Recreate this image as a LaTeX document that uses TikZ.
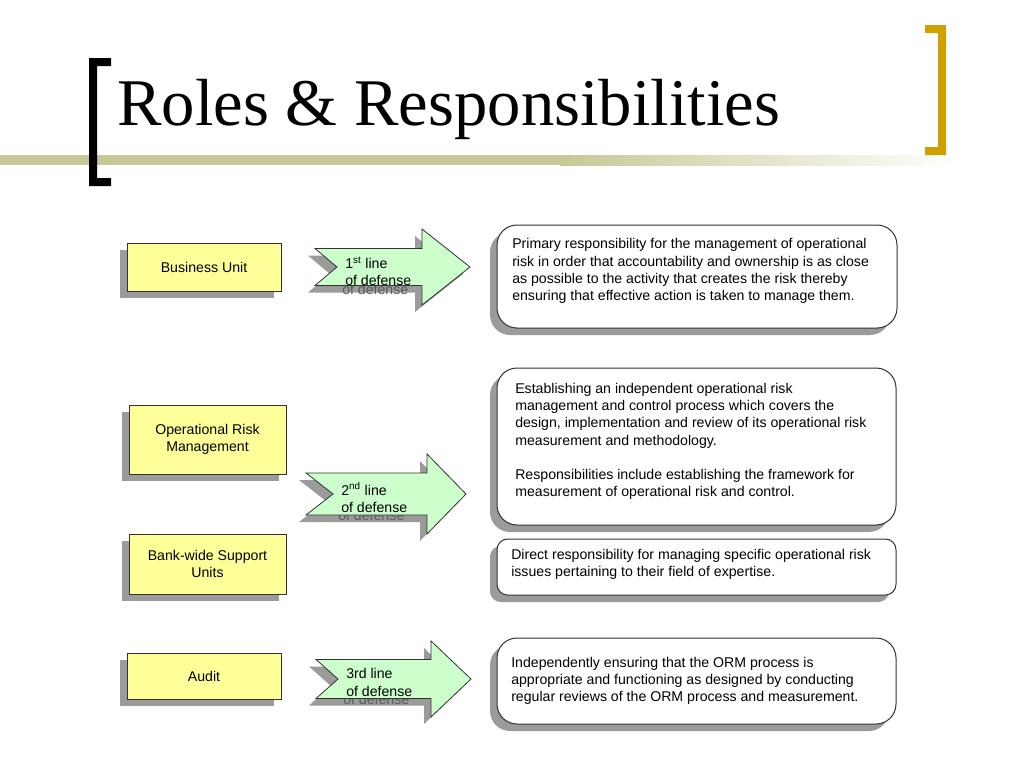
\documentclass[tikz,border=0pt]{standalone}
\usepackage{fontspec}
\setmainfont{Liberation Serif}
\newfontfamily\arialf{Liberation Sans}
\usetikzlibrary{shadows}
\definecolor{olivebar}{RGB}{200,200,150}
\definecolor{goldbr}{RGB}{208,160,0}
\definecolor{boxyellow}{RGB}{255,255,153}
\definecolor{arrgreen}{RGB}{204,255,204}
\definecolor{edgegrey}{RGB}{50,50,50}
\definecolor{shadowgrey}{RGB}{155,155,155}
\definecolor{shadowtext}{RGB}{90,90,90}
% arrow outline: tail x, centre y, notch depth, shaft half height, head x, head half height, tip x
\newcommand\arrowoutline[7]{(#1,#2-#4) -- (#5,#2-#4) -- (#5,#2-#6) -- (#7,#2) -- (#5,#2+#6)
    -- (#5,#2+#4) -- (#1,#2+#4) -- (#1+#3,#2) -- cycle}
\newcommand\arrowshadow[7]{%
  \fill[shadowgrey, xshift=-5.25pt, yshift=-5.25pt] \arrowoutline{#1}{#2}{#3}{#4}{#5}{#6}{#7};}
\newcommand\arrowbody[7]{%
  \path[defarrow] \arrowoutline{#1}{#2}{#3}{#4}{#5}{#6}{#7};}
\tikzset{
  shad/.style={drop shadow={shadow xshift=-5.25pt, shadow yshift=-5.25pt, fill=shadowgrey, opacity=1}},
  bodyfont/.style={font=\arialf\fontsize{10.6}{12.9}\selectfont},
  unitbox/.style={shad, bodyfont, draw=edgegrey, line width=0.6pt, fill=boxyellow, align=center, inner sep=0pt},
  descbox/.style={shad, draw=edgegrey, line width=0.75pt, fill=white, rounded corners=15pt, inner sep=0pt},
  desctext/.style={bodyfont, align=left, anchor=west, inner sep=0pt},
  defarrow/.style={draw=edgegrey, line width=0.6pt, fill=arrgreen},
  arrtext/.style={bodyfont, align=left, anchor=west, inner sep=0pt},
  ghosttext/.style={bodyfont, text=shadowtext, anchor=west, inner sep=0pt},
}
\begin{document}
\begin{tikzpicture}[x=0.75pt, y=-0.75pt]
\useasboundingbox (0,0) rectangle (1024,768);
% title bar
\fill[olivebar] (0,155) rectangle (560,165);
\shade[left color=olivebar, right color=white] (560,155) rectangle (960,165);
% brackets
\fill[black] (89,58) rectangle (111,66) (89,58) rectangle (97,186) (89,178) rectangle (111,186);
\fill[goldbr] (925,25) rectangle (946,33) (938,25) rectangle (946,155) (925,147) rectangle (946,155);
\node[anchor=base west, inner sep=0pt, font=\fontsize{50}{54}\selectfont] (title) at (117,125) {Roles \& Responsibilities};

% yellow role boxes
\node[unitbox, minimum width=115.5pt, minimum height=36pt] (bu) at (204,267) {Business Unit};
\node[unitbox, minimum width=117.75pt, minimum height=51.75pt] (orm) at (207.5,439.5) {Operational Risk\\Management};
\node[unitbox, minimum width=117.75pt, minimum height=45pt] (bw) at (207.5,564) {Bank-wide Support\\Units};
\node[unitbox, minimum width=115.5pt, minimum height=34.5pt] (audit) at (204,676) {Audit};

% arrows
\arrowshadow{315}{267}{22}{18.5}{422}{38}{470}
\node[ghosttext] (g1) at (342,289) {of defense};
\arrowbody{315}{267}{22}{18.5}{422}{38}{470}
\node[arrtext] (a1) at (345,271.5) {1\textsuperscript{st} line\\of defense};

\arrowshadow{306}{494}{27}{21}{427}{40}{466}
\node[ghosttext] (g2) at (338,515) {of defense};
\arrowbody{306}{494}{27}{21}{427}{40}{466}
\node[arrtext] (a2) at (341,497.5) {2\textsuperscript{nd} line\\of defense};

\arrowshadow{316}{679}{22}{19.5}{431}{38}{471}
\node[ghosttext] (g3) at (343,699) {of defense};
\arrowbody{316}{679}{22}{19.5}{431}{38}{471}
\node[arrtext] (a3) at (346,682.5) {3rd line\\of defense};

% description boxes
\node[descbox, minimum width=300pt, minimum height=77.25pt] (d1) at (697,276.5) {};
\node[desctext] (t1) at (512,271) {Primary responsibility for the management of operational\\risk in order that accountability and ownership is as close\\as possible to the activity that creates the risk thereby\\ensuring that effective action is taken to manage them.};

\node[descbox, minimum width=299.25pt, minimum height=117.75pt] (d2) at (696.5,446.5) {};
\node[desctext] (t2) at (515,441.5) {Establishing an independent operational risk\\management and control process which covers the\\design, implementation and review of its operational risk\\measurement and methodology.\\[12.9pt]Responsibilities include establishing the framework for\\measurement of operational risk and control.};

\node[descbox, rounded corners=8pt, minimum width=299.25pt, minimum height=42pt] (d3) at (696.5,567) {};
\node[desctext] (t3) at (511,564.5) {Direct responsibility for managing specific operational risk\\issues pertaining to their field of expertise.};

\node[descbox, minimum width=299.25pt, minimum height=64.5pt] (d4) at (696.5,681) {};
\node[desctext] (t4) at (511,681) {Independently ensuring that the ORM process is\\appropriate and functioning as designed by conducting\\regular reviews of the ORM process and measurement.};
\end{tikzpicture}
\end{document}
